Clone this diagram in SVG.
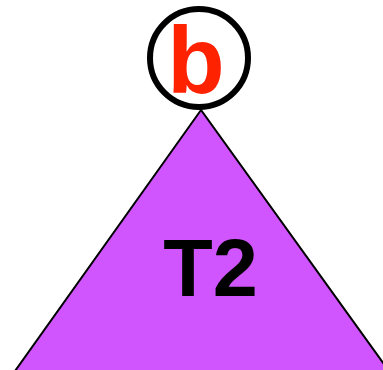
<svg xmlns="http://www.w3.org/2000/svg" width="383" height="370" viewBox="0 0 383 370">
<style>
.lbl{font-family:"Liberation Sans",Arial,sans-serif;font-weight:bold;text-anchor:middle}
</style>
<rect width="383" height="370" fill="#ffffff"/>
<g id="tree-T2">
<polygon points="201,110 15,371 389,371" fill="#D055FF" stroke="#000000" stroke-width="2"/>
<text class="lbl" x="210.5" y="296" font-size="81" fill="#000000">T2</text>
</g>
<g id="node-b">
<circle cx="199" cy="58" r="49" fill="#ffffff" stroke="#000000" stroke-width="6"/>
<text class="lbl" x="196" y="93" font-size="94" fill="#FF2200">b</text>
</g>
<g id="connectors"></g>
</svg>
